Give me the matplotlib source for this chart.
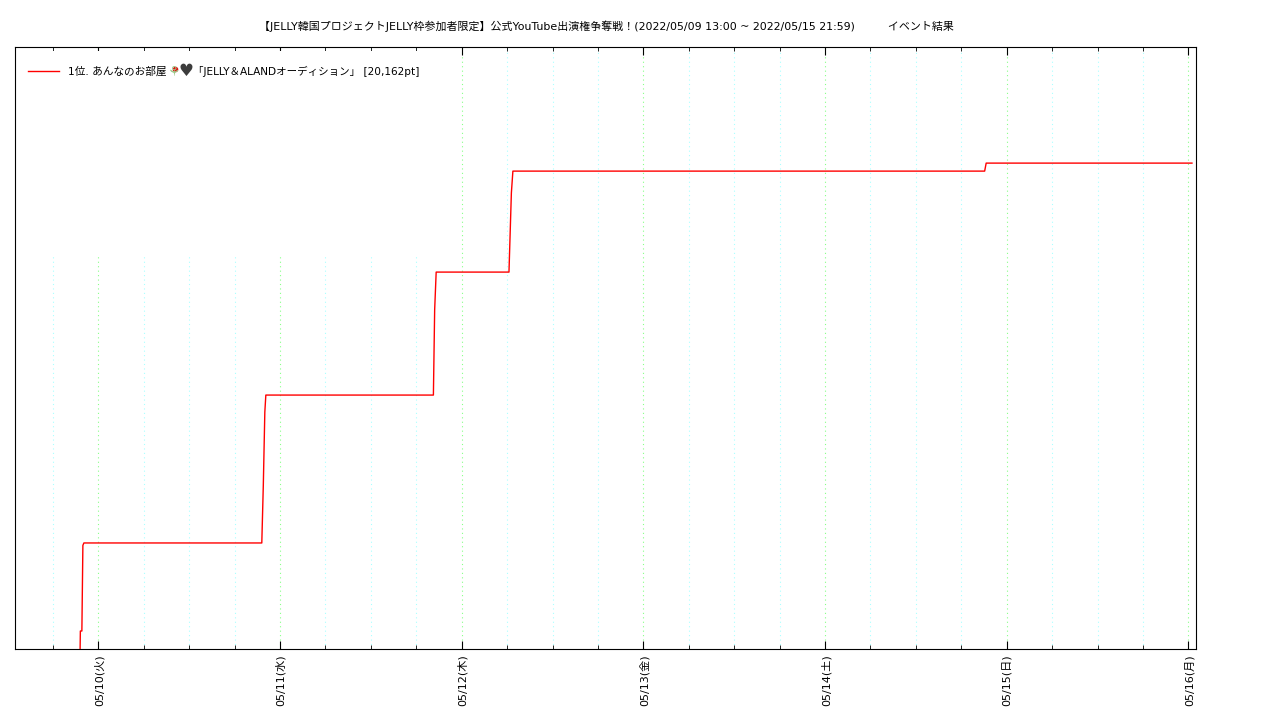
import datetime as dt
import matplotlib
matplotlib.use('Agg')
import matplotlib.pyplot as plt
import matplotlib.dates as mdates
from matplotlib.patches import Rectangle
from matplotlib.transforms import ScaledTranslation

title_text = '【JELLY韓国プロジェクトJELLY枠参加者限定】公式YouTube出演権争奪戦！(2022/05/09 13:00 ~ 2022/05/15 21:59)　　　イベント結果'
legend_before = '1位. あんなのお部屋'
legend_after = '「JELLY＆ALANDオーディション」 [20,162pt]'
weekdays = ['月', '火', '水', '木', '金', '土', '日']

times = ['05/09 21:36', '05/09 21:38', '05/09 21:50', '05/09 21:58', '05/09 22:06',
         '05/10 21:36', '05/10 21:48', '05/10 22:00', '05/10 22:08',
         '05/11 20:16', '05/11 20:26', '05/11 20:38',
         '05/12 06:15', '05/12 06:34', '05/12 06:46',
         '05/14 21:05', '05/14 21:17',
         '05/16 00:28']
points = [0, 747, 747, 4300, 4400,
          4400, 6800, 9830, 10537,
          10537, 14070, 15640,
          15640, 18924, 19830,
          19830, 20162,
          20162]

x = [dt.datetime.strptime('2022/' + t, '%Y/%m/%d %H:%M') for t in times]

plt.rcParams['font.family'] = ['DejaVu Sans', 'Noto Sans CJK JP']
plt.rcParams['font.size'] = 8

fig = plt.figure(figsize=(12.8, 7.2), dpi=100)
ax = fig.add_axes([15 / 1280, 1 - 649 / 720, 1181 / 1280, 602 / 720])

ax.plot(x, points, color='#ff0000', lw=1, zorder=3)
ax.set_xlim(dt.datetime(2022, 5, 9, 13, 0), dt.datetime(2022, 5, 16, 1, 0))
ax.set_ylim(0, 24980)
ax.set_yticks([])

#layout x-axis
def day_label(v, pos=None):
    d = mdates.num2date(v)
    return d.strftime('%m/%d') + '(' + weekdays[d.weekday()] + ')'

ax.xaxis.set_major_locator(mdates.DayLocator())
ax.xaxis.set_major_formatter(day_label)
ax.xaxis.set_minor_locator(mdates.HourLocator(byhour=[6, 12, 18]))
ax.tick_params(axis='x', which='major', direction='in', top=True, length=6, width=0.8, pad=3.8)
ax.tick_params(axis='x', which='minor', direction='in', top=True, length=3, width=0.6)
nudge = ScaledTranslation(1 / 100, 0, fig.dpi_scale_trans)
for lab in ax.get_xticklabels():
    lab.set_rotation(90)
    lab.set_ha('center')
    lab.set_va('top')
    lab.set_transform(lab.get_transform() + nudge)

ax.grid(True, axis='x', which='major', color='#88ff88', ls=(0, (1, 3)), lw=0.8, zorder=1)
ax.grid(True, axis='x', which='minor', color='#aaffff', ls=(0, (1, 3)), lw=0.8, zorder=1)

# the key sits on a white box that hides the grid behind it
ax.add_patch(Rectangle((15.5 / 1280, 1 - 257 / 720), 430 / 1280, 206 / 720, transform=fig.transFigure,
                       facecolor='white', edgecolor='none', zorder=2))

fig.text(606 / 1280, 1 - 26.5 / 720, title_text, ha='center', va='center', fontsize=7.9)
fig.add_artist(plt.Line2D([28 / 1280, 59 / 1280], [1 - 71 / 720] * 2, color='#ff0000', lw=1))
fig.text(68 / 1280, 1 - 71 / 720, legend_before, ha='left', va='center', fontsize=7.7)
# the two emoji, no colour emoji font here
fig.text(173.5 / 1280, 1 - 72 / 720, '⚘', color='#9cc98a', ha='center', va='center', fontsize=10)
fig.add_artist(plt.Line2D([175 / 1280], [1 - 68.5 / 720], color='#e01010', marker='o', ms=3, ls='none'))
fig.text(186 / 1280, 1 - 71 / 720, '♥', color='#3c3c3c', ha='center', va='center', fontsize=12)
fig.text(193 / 1280, 1 - 71 / 720, legend_after, ha='left', va='center', fontsize=7.55)

fig.savefig('out.png', dpi=100)
